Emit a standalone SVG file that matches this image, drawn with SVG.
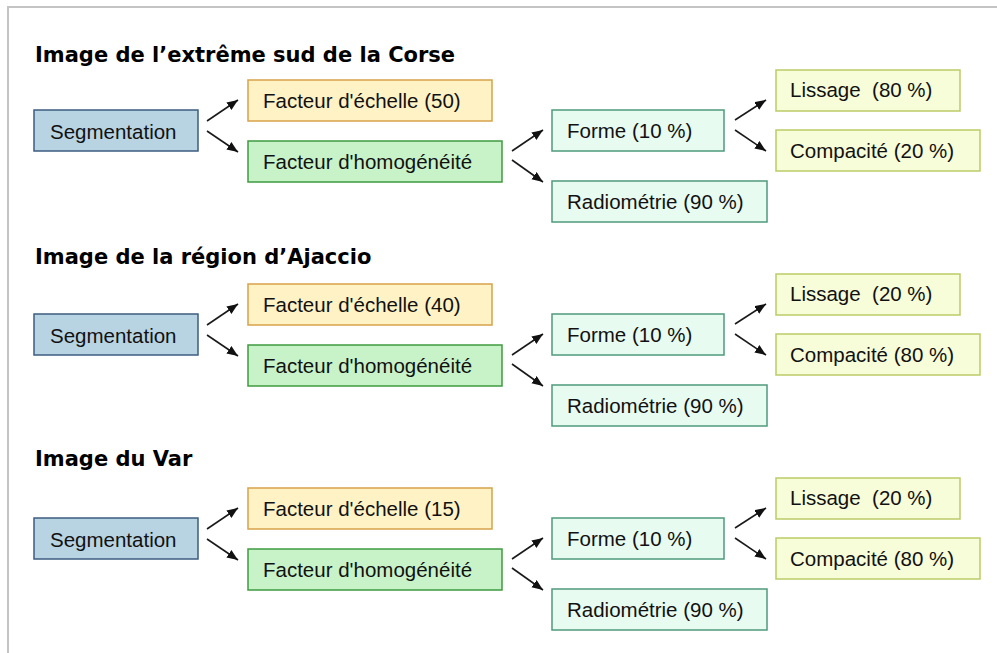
<svg xmlns="http://www.w3.org/2000/svg" width="997" height="653" viewBox="0 0 997 653">
<defs>
<style>
.t{font-family:"Liberation Sans",Arial,sans-serif;font-size:20.5px;fill:#111;white-space:pre}
.h{font-family:"DejaVu Sans",Verdana,sans-serif;font-weight:bold;font-size:21px;fill:#000}
.seg{fill:#b8d4e2;stroke:#3d5c80;stroke-width:1.5}
.ech{fill:#fff3c6;stroke:#d8a24a;stroke-width:1.5}
.hom{fill:#c8f3c8;stroke:#3f9a3f;stroke-width:1.5}
.fr{fill:#e8fbf1;stroke:#4f9a7c;stroke-width:1.5}
.lc{fill:#f7fcd9;stroke:#bccb66;stroke-width:1.5}
.c{stroke:#1a1a1a;stroke-width:1.6;fill:none;marker-end:url(#ah)}
</style>
<marker id="ah" markerUnits="userSpaceOnUse" markerWidth="12" markerHeight="10" refX="11" refY="4.5" orient="auto">
<path d="M0,0 L11,4.5 L0,9 z" fill="#111"/>
</marker>
</defs>
<rect width="997" height="653" fill="#fff"/>
<line x1="8" y1="7" x2="997" y2="7" stroke="#c4c4c4" stroke-width="2"/>
<line x1="8" y1="6" x2="8" y2="653" stroke="#c4c4c4" stroke-width="2"/>

<!-- Section 1 -->
<g id="section1">
<text id="title1" class="h" x="35" y="62">Image de l’extrême sud de la Corse</text>
<g id="s1-seg"><rect class="seg" x="34" y="110" width="164" height="41"/><text class="t" x="50" y="139">Segmentation</text></g>
<g id="s1-ech"><rect class="ech" x="248" y="80" width="244" height="41"/><text class="t" x="263" y="108">Facteur d'échelle (50)</text></g>
<g id="s1-hom"><rect class="hom" x="248" y="141" width="254" height="41"/><text class="t" x="263" y="169">Facteur d'homogénéité</text></g>
<g id="s1-forme"><rect class="fr" x="552" y="110" width="172" height="41"/><text class="t" x="567" y="138">Forme (10 %)</text></g>
<g id="s1-radio"><rect class="fr" x="552" y="181" width="215" height="41"/><text class="t" x="567" y="209">Radiométrie (90 %)</text></g>
<g id="s1-liss"><rect class="lc" x="776" y="70" width="184" height="41"/><text class="t" x="790" y="97">Lissage  (80 %)</text></g>
<g id="s1-comp"><rect class="lc" x="776" y="130" width="204" height="41"/><text class="t" x="790" y="158">Compacité (20 %)</text></g>
</g>

<!-- Section 2 -->
<g id="section2">
<text id="title2" class="h" x="35" y="263.5">Image de la région d’Ajaccio</text>
<g id="s2-seg"><rect class="seg" x="34" y="314" width="164" height="41"/><text class="t" x="50" y="343">Segmentation</text></g>
<g id="s2-ech"><rect class="ech" x="248" y="284" width="244" height="41"/><text class="t" x="263" y="312">Facteur d'échelle (40)</text></g>
<g id="s2-hom"><rect class="hom" x="248" y="345" width="254" height="41"/><text class="t" x="263" y="373">Facteur d'homogénéité</text></g>
<g id="s2-forme"><rect class="fr" x="552" y="314" width="172" height="41"/><text class="t" x="567" y="342">Forme (10 %)</text></g>
<g id="s2-radio"><rect class="fr" x="552" y="385" width="215" height="41"/><text class="t" x="567" y="413">Radiométrie (90 %)</text></g>
<g id="s2-liss"><rect class="lc" x="776" y="274" width="184" height="41"/><text class="t" x="790" y="301">Lissage  (20 %)</text></g>
<g id="s2-comp"><rect class="lc" x="776" y="334" width="204" height="41"/><text class="t" x="790" y="362">Compacité (80 %)</text></g>
</g>

<!-- Section 3 -->
<g id="section3">
<text id="title3" class="h" x="35" y="466">Image du Var</text>
<g id="s3-seg"><rect class="seg" x="34" y="518" width="164" height="41"/><text class="t" x="50" y="547">Segmentation</text></g>
<g id="s3-ech"><rect class="ech" x="248" y="488" width="244" height="41"/><text class="t" x="263" y="516">Facteur d'échelle (15)</text></g>
<g id="s3-hom"><rect class="hom" x="248" y="549" width="254" height="41"/><text class="t" x="263" y="577">Facteur d'homogénéité</text></g>
<g id="s3-forme"><rect class="fr" x="552" y="518" width="172" height="41"/><text class="t" x="567" y="546">Forme (10 %)</text></g>
<g id="s3-radio"><rect class="fr" x="552" y="589" width="215" height="41"/><text class="t" x="567" y="617">Radiométrie (90 %)</text></g>
<g id="s3-liss"><rect class="lc" x="776" y="478" width="184" height="41"/><text class="t" x="790" y="505">Lissage  (20 %)</text></g>
<g id="s3-comp"><rect class="lc" x="776" y="538" width="204" height="41"/><text class="t" x="790" y="566">Compacité (80 %)</text></g>
</g>

<g id="connectors">
<line class="c" x1="207" y1="121" x2="238" y2="100"/>
<line class="c" x1="207" y1="131" x2="238" y2="152"/>
<line class="c" x1="512" y1="151" x2="543" y2="130"/>
<line class="c" x1="512" y1="160" x2="543" y2="182"/>
<line class="c" x1="735" y1="120" x2="766" y2="100"/>
<line class="c" x1="735" y1="130" x2="766" y2="151"/>

<line class="c" x1="207" y1="325" x2="238" y2="304"/>
<line class="c" x1="207" y1="335" x2="238" y2="356"/>
<line class="c" x1="512" y1="355" x2="543" y2="334"/>
<line class="c" x1="512" y1="364" x2="543" y2="386"/>
<line class="c" x1="735" y1="324" x2="766" y2="304"/>
<line class="c" x1="735" y1="334" x2="766" y2="355"/>

<line class="c" x1="207" y1="529" x2="238" y2="508"/>
<line class="c" x1="207" y1="539" x2="238" y2="560"/>
<line class="c" x1="512" y1="559" x2="543" y2="538"/>
<line class="c" x1="512" y1="568" x2="543" y2="590"/>
<line class="c" x1="735" y1="528" x2="766" y2="508"/>
<line class="c" x1="735" y1="538" x2="766" y2="559"/>
</g>
</svg>
